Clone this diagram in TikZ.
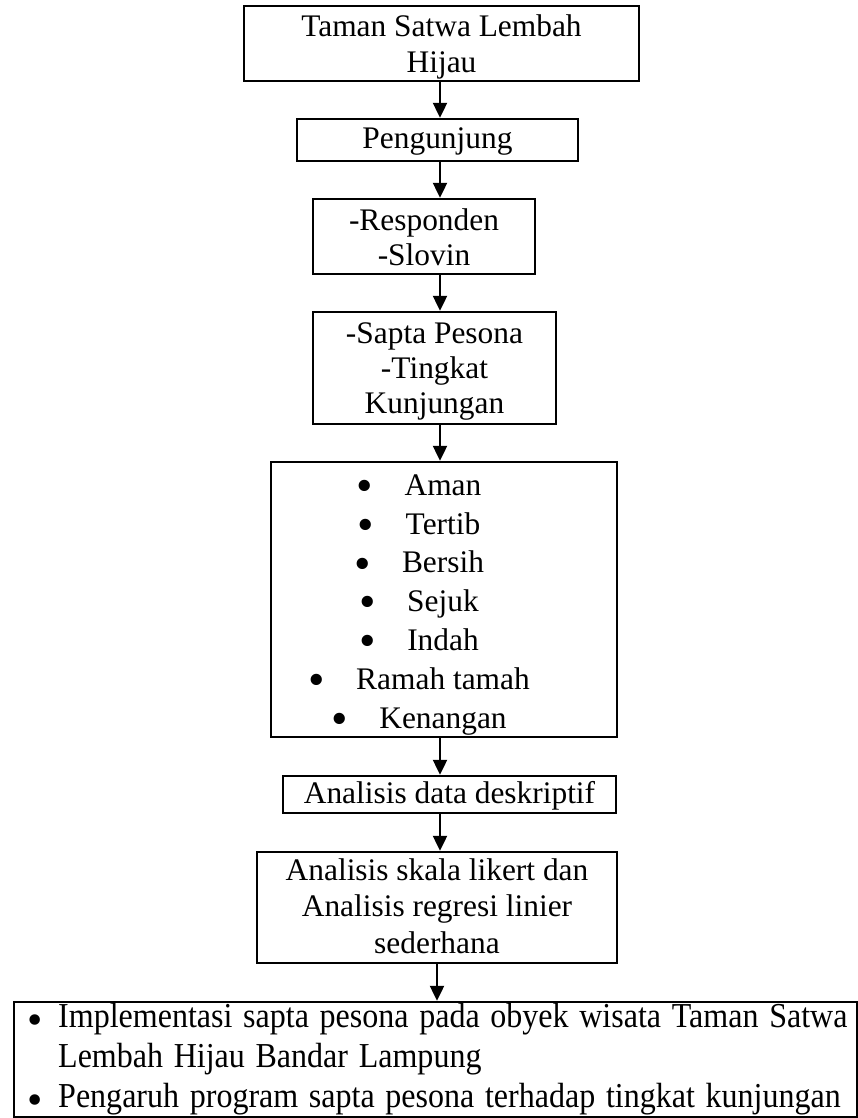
\documentclass[tikz,border=0pt]{standalone}
\usepackage{fontspec}
\setmainfont{Liberation Serif}
\usetikzlibrary{arrows.meta}
\begin{document}
\begin{tikzpicture}[x=1pt,y=-1pt,
  box/.style={draw, line width=2.4pt, inner sep=0pt, align=center, font=\fontsize{31.4}{36}\selectfont},
  flow/.style={-{Triangle[length=15pt,width=14pt]}, line width=2.2pt}]
\useasboundingbox (0,0) rectangle (857,1118);
\newcommand{\bdot}[1]{\raisebox{-0.2em}{\scalebox{#1}{\textbullet}}}
\newcommand{\bul}[1]{\makebox[48pt][l]{\bdot{1.5}}#1\rule{50pt}{0pt}}
\newcommand{\sq}[1]{\scalebox{0.915}[1]{#1}}
\node[box, minimum width=395pt, minimum height=75pt, text height=59pt, text depth=0pt] (b1) at (441.5,43.5) {Taman Satwa Lembah\\Hijau};
\node[box, minimum width=281pt, minimum height=42pt, text height=18pt, text depth=0pt] (b2) at (437.5,140) {Pengunjung};
\node[box, minimum width=222pt, minimum height=75pt, text height=57pt, text depth=0pt, font=\fontsize{31.4}{35}\selectfont] (b3) at (424,236.5) {-Responden\\-Slovin};
\node[box, minimum width=243pt, minimum height=112pt, text height=90pt, text depth=0pt, font=\fontsize{31.4}{35}\selectfont] (b4) at (434.5,368) {-Sapta Pesona\\-Tingkat\\Kunjungan};
\node[box, minimum width=346pt, minimum height=275pt, text height=257pt, text depth=0pt, font=\fontsize{31.4}{38.8}\selectfont] (b5) at (444,599.5)
  {\bul{Aman}\\\bul{Tertib}\\\bul{Bersih}\\\bul{Sejuk}\\\bul{Indah}\\\bul{Ramah tamah}\\\bul{Kenangan}};
\node[box, minimum width=333pt, minimum height=37pt, text height=17pt, text depth=0pt] (b6) at (449.5,794.5) {Analisis data deskriptif};
\node[box, minimum width=360pt, minimum height=111pt, text height=91pt, text depth=0pt, font=\fontsize{31.4}{36.5}\selectfont] (b7) at (437,907.5) {Analisis skala likert dan\\Analisis regresi linier\\sederhana};
\node[box, minimum width=843pt, minimum height=115pt, align=left, inner xsep=13pt, text width=817pt, text height=0pt, text depth=65pt, anchor=west, font=\fontsize{35}{40}\selectfont] (b8) at (13,1059.5)
  {\makebox[31pt][l]{\bdot{1.25}}\sq{Implementasi sapta pesona pada obyek wisata Taman Satwa}\\
   \hspace*{31pt}\sq{Lembah Hijau Bandar Lampung}\\
   \makebox[31pt][l]{\bdot{1.25}}\sq{Pengaruh program sapta pesona terhadap tingkat kunjungan}};
\coordinate (ax) at (440,0);
\coordinate (ay) at (437,0);
\draw[flow] (b1.south -| ax) -- (b2.north -| ax);
\draw[flow] (b2.south -| ax) -- (b3.north -| ax);
\draw[flow] (b3.south -| ax) -- (b4.north -| ax);
\draw[flow] (b4.south -| ax) -- (b5.north -| ax);
\draw[flow] (b5.south -| ax) -- (b6.north -| ax);
\draw[flow] (b6.south -| ax) -- (b7.north -| ax);
\draw[flow] (b7.south -| ay) -- (b8.north -| ay);
\end{tikzpicture}
\end{document}
